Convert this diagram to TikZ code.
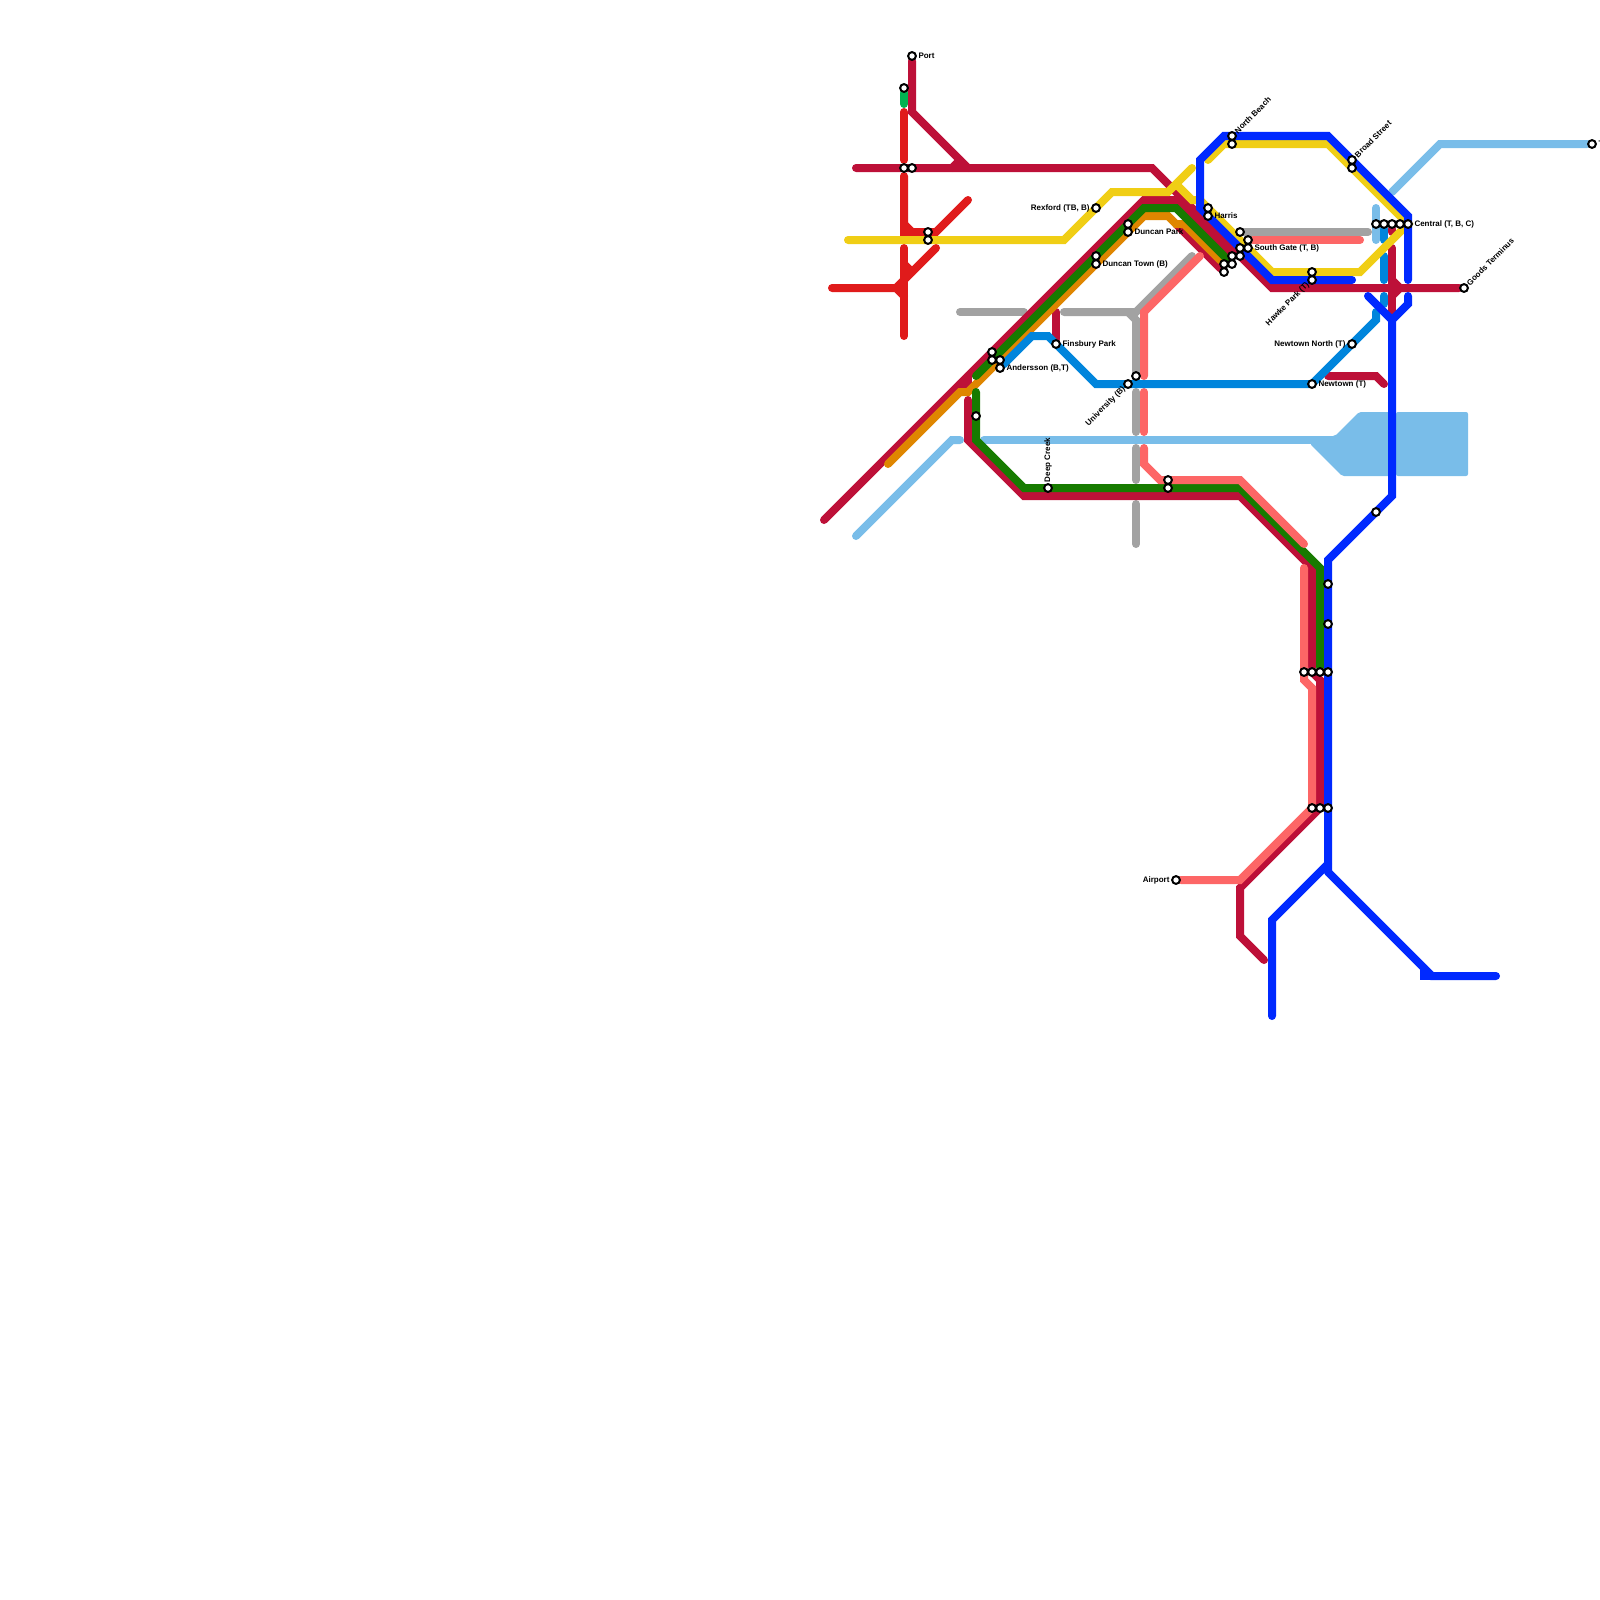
\documentclass[tikz,border=0pt]{standalone}
\usepackage{fontspec}
\setmainfont{Liberation Sans}
\usetikzlibrary{positioning}
\usetikzlibrary{backgrounds}
\definecolor{crimsonc}{HTML}{BD1038}
\definecolor{redc}{HTML}{E01B1B}
\definecolor{emeraldc}{HTML}{00B251}
\definecolor{yellowc}{HTML}{F0CE15}
\definecolor{bluec}{HTML}{0029FF}
\definecolor{skyc}{HTML}{79BDE9}
\definecolor{azurec}{HTML}{0085DC}
\definecolor{grayc}{HTML}{A2A2A2}
\definecolor{pinkc}{HTML}{FD6666}
\definecolor{greenc}{HTML}{177B00}
\definecolor{orangec}{HTML}{DF8600}

\begin{document}
\begin{tikzpicture}[
    x=1pt, y=-1pt,
    station/.style={circle, draw=black, fill=white, line width=2pt, inner sep=0pt, minimum size=7.8pt},
    stationtext/.style={inner sep=0pt, outer sep=0pt, font=\bfseries\fontsize{8}{8}\selectfont, text=black},
    track/.style={line width=8pt, line cap=round, line join=miter},
    crimsonline/.style={track, draw=crimsonc},
    redline/.style={track, draw=redc},
    emeraldline/.style={track, draw=emeraldc},
    yellowline/.style={track, draw=yellowc},
    blueline/.style={track, draw=bluec},
    skyline/.style={track, draw=skyc},
    azureline/.style={track, draw=azurec},
    grayline/.style={track, draw=grayc},
    pinkline/.style={track, draw=pinkc},
    greenline/.style={track, draw=greenc},
    orangeline/.style={track, draw=orangec}
]
\useasboundingbox (0,0) rectangle (1600,1600);

% Stations
\node[station] (port) at (912,56) {};
\node[station] (emeraldend) at (904,88) {};
\node[station] (crossA) at (904,168) {};
\node[station] (crossB) at (912,168) {};
\node[station] (redA) at (928,232) {};
\node[station] (redB) at (928,240) {};
\node[station] (rexford) at (1096,208) {};
\node[station] (duncanparkA) at (1128,224) {};
\node[station] (duncanpark) at (1128,232) {};
\node[station] (duncantownA) at (1096,256) {};
\node[station] (duncantown) at (1096,264) {};
\node[station] (northbeach) at (1232,136) {};
\node[station] (northbeachB) at (1232,144) {};
\node[station] (broadstreet) at (1352,160) {};
\node[station] (broadstreetB) at (1352,168) {};
\node[station] (harrisA) at (1208,208) {};
\node[station] (harris) at (1208,216) {};
\node[station] (graystart) at (1240,232) {};
\node[station] (pinkstart) at (1248,240) {};
\node[station] (southgate) at (1248,248) {};
\node[station] (gateB) at (1240,248) {};
\node[station] (gateC) at (1240,256) {};
\node[station] (gateD) at (1232,256) {};
\node[station] (gateE) at (1232,264) {};
\node[station] (gateF) at (1224,264) {};
\node[station] (gateG) at (1224,272) {};
\node[station] (hawkeA) at (1312,272) {};
\node[station] (hawke) at (1312,280) {};
\node[station] (centralA) at (1376,224) {};
\node[station] (centralB) at (1384,224) {};
\node[station] (centralC) at (1392,224) {};
\node[station] (centralD) at (1400,224) {};
\node[station] (central) at (1408,224) {};
\node[station] (goods) at (1464,288) {};
\node[station] (skyend) at (1592,144) {};
\node[station] (newtownnorth) at (1352,344) {};
\node[station] (newtown) at (1312,384) {};
\node[station] (universityA) at (1136,376) {};
\node[station] (university) at (1128,384) {};
\node[station] (pinkmid) at (1168,480) {};
\node[station] (greenmid) at (1168,488) {};
\node[station] (deepcreek) at (1048,488) {};
\node[station] (greentop) at (976,416) {};
\node[station] (finsbury) at (1056,344) {};
\node[station] (anderssonA) at (992,352) {};
\node[station] (anderssonB) at (992,360) {};
\node[station] (anderssonC) at (1000,360) {};
\node[station] (andersson) at (1000,368) {};
\node[station] (southblue) at (1376,512) {};
\node[station] (trunkA) at (1328,584) {};
\node[station] (trunkB) at (1328,624) {};
\node[station] (trunkC) at (1328,672) {};
\node[station] (trunkD) at (1320,672) {};
\node[station] (trunkE) at (1312,672) {};
\node[station] (trunkF) at (1304,672) {};
\node[station] (lowerA) at (1328,808) {};
\node[station] (lowerB) at (1320,808) {};
\node[station] (lowerC) at (1312,808) {};
\node[station] (airport) at (1176,880) {};

% Labels
\node[stationtext] (portlabel) [right=1.6pt of port] {Port};
\node[stationtext] (rexfordlabel) [left=1.6pt of rexford] {Rexford (TB, B)};
\node[stationtext] (duncanparklabel) [right=1.6pt of duncanpark] {Duncan Park};
\node[stationtext] (duncantownlabel) [right=1.6pt of duncantown] {Duncan Town (B)};
\node[stationtext] (harrislabel) [right=1.6pt of harris] {Harris};
\node[stationtext] (southgatelabel) [right=1.6pt of southgate] {South Gate (T, B)};
\node[stationtext] (centrallabel) [right=1.6pt of central] {Central (T, B, C)};
\node[stationtext] (skylabel) [right=1.6pt of skyend] {T};
\node[stationtext] (newtownnorthlabel) [left=1.6pt of newtownnorth] {Newtown North (T)};
\node[stationtext] (newtownlabel) [right=1.6pt of newtown] {Newtown (T)};
\node[stationtext] (finsburylabel) [right=1.6pt of finsbury] {Finsbury Park};
\node[stationtext] (anderssonlabel) [right=1.6pt of andersson] {Andersson (B,T)};
\node[stationtext] (airportlabel) [left=1.6pt of airport] {Airport};
\node[stationtext, rotate=90, anchor=west] (deepcreeklabel) at (1048,482) {Deep Creek};
\node[stationtext, rotate=45, anchor=west] (northbeachlabel) at (1236,132) {North Beach};
\node[stationtext, rotate=45, anchor=west] (broadstreetlabel) at (1356,156) {Broad Street};
\node[stationtext, rotate=45, anchor=west] (goodslabel) at (1468,284) {Goods Terminus};
\node[stationtext, rotate=45, anchor=east] (hawkelabel) at (1308,284) {Hawke Park (T)};
\node[stationtext, rotate=45, anchor=east] (universitylabel) at (1124,388) {University (B)};

% Lines
\begin{scope}[on background layer]
% sky
\draw[skyline] (856,536) -- (952,440) -- (960,440);
\draw[skyline] (984,440) -- (1330,440);
\draw[skyline] (1392,192) -- (1440,144) -- (skyend);
\draw[skyline] (1376,208) -- (1376,240);
\fill[skyc, rounded corners=2pt] (1335,436) -- (1359,412) -- (1391,412) -- (1391,476) -- (1342,476) -- (1310,444) -- (1310,436) -- cycle;
\fill[skyc, rounded corners=2pt] (1396,412) rectangle (1468,476);
% gray
\draw[grayline] (960,312) -- (1024,312);
\draw[grayline] (1064,312) -- (1136,312) -- (1192,256);
\draw[grayline] (1128,312) -- (1136,320) -- (universityA);
\draw[grayline] (1136,392) -- (1136,432);
\draw[grayline] (1136,448) -- (1136,480);
\draw[grayline] (1136,504) -- (1136,544);
\draw[grayline] (graystart) -- (1368,232);
% red
\draw[redline] (904,112) -- (904,160);
\draw[redline] (904,176) -- (904,232) -- (936,232) -- (968,200);
\draw[redline] (904,224) -- (912,232);
\draw[redline] (904,248) -- (904,336);
\draw[redline] (832,288) -- (896,288) -- (904,296);
\draw[redline] (896,288) -- (936,248);
\draw[redline] (904,264) -- (912,272);
\draw[emeraldline] (emeraldend) -- (904,104);
% crimson
\draw[crimsonline] (port) -- (912,112) -- (968,168);
\draw[crimsonline] (960,160) -- (952,168);
\draw[crimsonline] (856,168) -- (1152,168) -- (1272,288) -- (goods);
\draw[crimsonline] (824,520) -- (1144,200) -- (1176,200) -- (gateD);
\draw[crimsonline] (1176,224) -- (gateG);
\draw[crimsonline] (968,376) -- (968,384) -- (960,384);
\draw[crimsonline] (968,400) -- (968,440) -- (1024,496) -- (1240,496) -- (1312,568) -- (trunkE);
\draw[crimsonline] (1312,672) -- (1320,680) -- (1320,808) -- (1240,888) -- (1240,936) -- (1264,960);
\draw[crimsonline] (finsbury) -- (1056,312);
\draw[crimsonline] (1328,376) -- (1376,376) -- (1384,384);
\draw[crimsonline] (centralC) -- (1392,232);
\draw[crimsonline] (1392,248) -- (1392,320);
\draw[crimsonline] (1392,280) -- (1400,288) -- (1392,296);
% orange
\draw[orangeline] (888,464) -- (960,392) -- (968,392) -- (1144,216) -- (1168,216) -- (1176,224) -- (1184,224) -- (gateF);
% green
\draw[greenline] (976,376) -- (1144,208) -- (1176,208) -- (gateE);
\draw[greenline] (976,392) -- (976,440) -- (1024,488) -- (1240,488) -- (1320,568) -- (trunkD);
% pink
\draw[pinkline] (1144,376) -- (1144,312) -- (1200,256);
\draw[pinkline] (1144,392) -- (1144,432);
\draw[pinkline] (1144,448) -- (1144,464) -- (1160,480) -- (1240,480) -- (1304,544);
\draw[pinkline] (1304,568) -- (1304,680) -- (1312,688) -- (1312,808) -- (1240,880) -- (airport);
\draw[pinkline] (pinkstart) -- (1360,240);
% azure
\draw[azureline] (andersson) -- (1032,336) -- (1048,336) -- (1096,384) -- (1312,384) -- (1376,320) -- (1376,312);
\draw[azureline] (centralB) -- (1384,240);
\draw[azureline] (1384,256) -- (1384,280);
\draw[azureline] (1384,296) -- (1384,304);
% yellow
\draw[yellowline] (848,240) -- (1064,240) -- (1112,192) -- (1168,192) -- (1192,168);
\draw[yellowline] (1176,184) -- (1192,200) -- (1200,200) -- (1272,272) -- (1360,272) -- (1408,224) -- (1328,144) -- (1224,144) -- (1208,160);
% blue
\draw[blueline] (1408,280) -- (1408,216) -- (1328,136) -- (1224,136) -- (1200,160) -- (1200,208) -- (1272,280) -- (1352,280);
\draw[blueline] (1368,296) -- (1392,320);
\draw[blueline] (1408,296) -- (1408,304) -- (1392,320) -- (1392,496) -- (1328,560) -- (1328,872);
\draw[blueline] (1272,1016) -- (1272,920) -- (1328,864);
\draw[blueline] (1328,872) -- (1432,976) -- (1496,976);
\draw[blueline] (1424,968) -- (1424,976) -- (1432,976);
\end{scope}

\end{tikzpicture}
\end{document}
